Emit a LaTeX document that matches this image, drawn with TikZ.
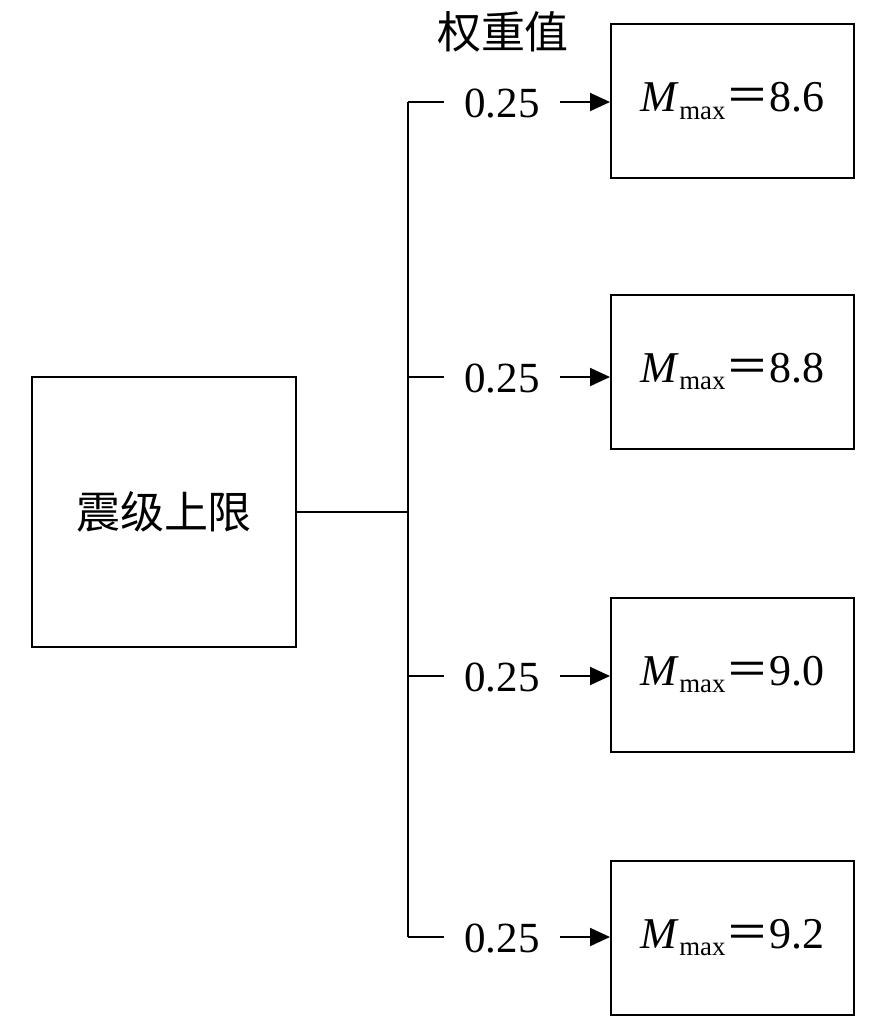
\documentclass[tikz,border=0pt]{standalone}
\usepackage{fontspec}
\setmainfont{Liberation Serif}
\newfontfamily\cjk{Noto Sans CJK SC}
\usetikzlibrary{arrows.meta}
\tikzset{
  box/.style={draw,line width=1pt,minimum width=121.5pt,minimum height=77pt,inner sep=0pt},
  weight/.style={inner xsep=10pt,inner ysep=2pt,font=\fontsize{21.5}{24}\selectfont},
  link/.style={line width=1pt},
  arr/.style={line width=1pt,-{Triangle[length=10pt,width=9pt]}}
}
\newcommand{\mmax}[1]{\raisebox{-2.5pt}{\textit{M}\raisebox{-0.35ex}{\fontsize{13.4}{15}\selectfont max}{\cjk ＝}#1}}
\begin{document}
\begin{tikzpicture}[x=0.5pt,y=-0.5pt,font=\fontsize{22}{26}\selectfont]
\useasboundingbox (0,0) rectangle (886,1025);
\node[box,minimum width=132pt,minimum height=135pt] (src) at (164,512) {\cjk 震级上限};
\node (title) at (503,32) {\cjk 权重值};
\node[box] (m1) at (732.5,101) {\mmax{8.6}};
\node[box] (m2) at (732.5,371.5) {\mmax{8.8}};
\node[box] (m3) at (732.5,674.5) {\mmax{9.0}};
\node[box] (m4) at (732.5,937.5) {\mmax{9.2}};
\node[weight] (w1) at (502,103) {0.25};
\node[weight] (w2) at (502,378) {0.25};
\node[weight] (w3) at (502,677) {0.25};
\node[weight] (w4) at (502,938) {0.25};
\coordinate (jn) at (408,512);
\coordinate (b1) at (408,102);
\coordinate (b2) at (408,377);
\coordinate (b3) at (408,676);
\coordinate (b4) at (408,937);
\draw[link] (src.east) -- (jn);
\draw[link] (b1) -- (b4);
\draw[link] (b1) -- (b1 -| w1.west);
\draw[link] (b2) -- (b2 -| w2.west);
\draw[link] (b3) -- (b3 -| w3.west);
\draw[link] (b4) -- (b4 -| w4.west);
\draw[arr] (b1 -| w1.east) -- (b1 -| m1.west);
\draw[arr] (b2 -| w2.east) -- (b2 -| m2.west);
\draw[arr] (b3 -| w3.east) -- (b3 -| m3.west);
\draw[arr] (b4 -| w4.east) -- (b4 -| m4.west);
\end{tikzpicture}
\end{document}
